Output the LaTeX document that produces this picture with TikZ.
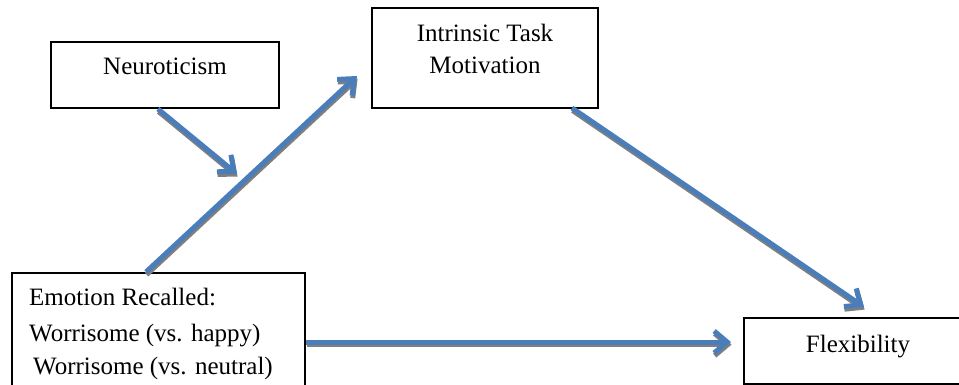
\documentclass[tikz,border=0pt]{standalone}
\usepackage{fontspec}
\setmainfont{Liberation Serif}
\usetikzlibrary{arrows.meta}
\definecolor{arrblue}{HTML}{4A7EBB}
\definecolor{shadowgray}{HTML}{7F7F7F}
\begin{document}
\begin{tikzpicture}[x=1pt,y=-1pt,
  box/.style={draw=black,line width=1.6pt,fill=white,inner sep=0pt,outer sep=0pt},
  lbl/.style={font=\fontsize{25}{30}\selectfont,inner sep=0pt},
  arr/.style={draw=arrblue,line width=5pt,-{Straight Barb[length=13pt,width=22pt,line width=5pt]}},
  shd/.style={draw=shadowgray,line width=5pt,-{Straight Barb[length=13pt,width=22pt,line width=5pt]}}]
\useasboundingbox (0,0) rectangle (959,385);
\clip (0,0) rectangle (959,385);
\fill[white] (0,0) rectangle (959,385);
% boxes
\node[box,minimum width=228pt,minimum height=66pt] (neuro) at (165,75) {};
\node[box,minimum width=226pt,minimum height=100pt] (itm) at (485,58) {};
\node[box,minimum width=293pt,minimum height=130pt] (emo) at (158.5,338) {};
\node[box,minimum width=228pt,minimum height=66pt] (flex) at (858,351) {};
% labels
\node[lbl,anchor=base] (tneuro) at (165,75) {Neuroticism};
\node[lbl,anchor=base] (titm1) at (485,42) {Intrinsic Task};
\node[lbl,anchor=base] (titm2) at (485,74) {Motivation};
\node[lbl,anchor=base west] (temo1) at (29,305) {Emotion Recalled:};
\node[lbl,anchor=base west] (temo2) at (29,341) {Worrisome (vs. happy)};
\node[lbl,anchor=base west] (temo3) at (33,374) {Worrisome (vs. neutral)};
\node[lbl,anchor=base] (tflex) at (858,352) {Flexibility};
% arrow end points
\coordinate (a1s) at (158,109);
\coordinate (a1e) at (237,174);
\coordinate (a2s) at (146,272);
\coordinate (a2e) at (357,76);
\coordinate (a3s) at (572,108);
\coordinate (a3e) at (864,307);
\coordinate (a4s) at (306,342);
\coordinate (a4e) at (731,342);
% shadows
\foreach \s/\e in {a1s/a1e,a2s/a2e,a3s/a3e,a4s/a4e}
  \draw[shd] ([shift={(0.6,2.6)}]\s) -- ([shift={(0.6,2.6)}]\e);
% arrows
\foreach \s/\e in {a1s/a1e,a2s/a2e,a3s/a3e,a4s/a4e}
  \draw[arr] (\s) -- (\e);
\end{tikzpicture}
\end{document}
